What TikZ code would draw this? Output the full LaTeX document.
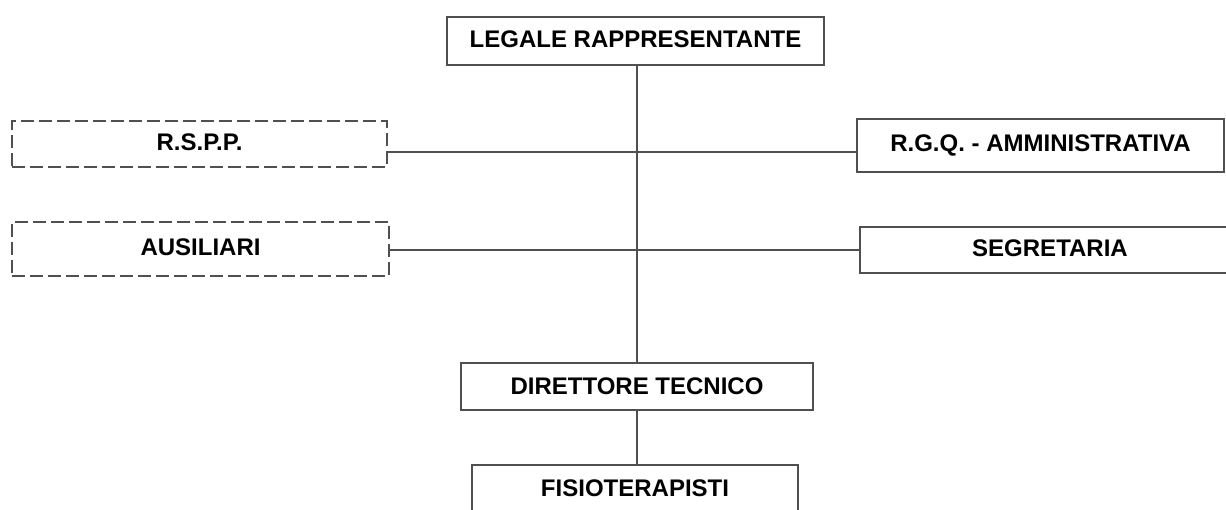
\documentclass[tikz,border=0pt]{standalone}
\usepackage{fontspec}
\setmainfont{Liberation Sans}
\usepackage{tikz}
\usetikzlibrary{positioning, calc}
\definecolor{linegray}{HTML}{505050}
\tikzset{box/.style = {draw=linegray,line width=1pt,inner sep=0pt,text depth=2pt,font=\fontsize{12}{14}\selectfont\bfseries},
         dashbox/.style = {box,dash pattern=on 6.5pt off 2.5pt},
         link/.style = {draw=linegray,line width=1pt}}

\begin{document}
\begin{tikzpicture}[x=0.5pt,y=-0.5pt]
                    \useasboundingbox (0,0) rectangle (1226,509);
                    \clip (0,0) rectangle (1226,509);
                    \begin{scope}
                        \node [box,minimum width=377*0.5pt,minimum height=48*0.5pt] (LR) at (635.5,41)  {LEGALE RAPPRESENTANTE};
                        \node [dashbox,minimum width=375*0.5pt,minimum height=46*0.5pt] (RSPP) at (199.5,144) {R.S.P.P.};
                        \node [dashbox,minimum width=377*0.5pt,minimum height=54*0.5pt] (AUS) at (200.5,249) {AUSILIARI};
                        \node [box,minimum width=367*0.5pt,minimum height=53*0.5pt] (RGQ) at (1040.5,145.5) {R.G.Q. - AMMINISTRATIVA};
                        \node [box,minimum width=380*0.5pt,minimum height=46*0.5pt] (SEG) at (1050,250) {SEGRETARIA};
                        \node [box,text depth=0pt,minimum width=352*0.5pt,minimum height=47*0.5pt] (DT) at (637,386.5) {DIRETTORE TECNICO};
                        \node [box,minimum width=326*0.5pt,minimum height=50*0.5pt] (FIS) at (635,490) {FISIOTERAPISTI};

                        \coordinate (J1) at (637,152);
                        \coordinate (J2) at (637,250);

                        \draw [link] (LR.south -| J1) -- (DT.north -| J1);
                        \draw [link] (J1 -| RSPP.east) -- (J1 -| RGQ.west);
                        \draw [link] (J2 -| AUS.east) -- (J2 -| SEG.west);
                        \draw [link] (DT.south -| J1) -- (FIS.north -| J1);
                    \end{scope}
                \end{tikzpicture}
\end{document}
